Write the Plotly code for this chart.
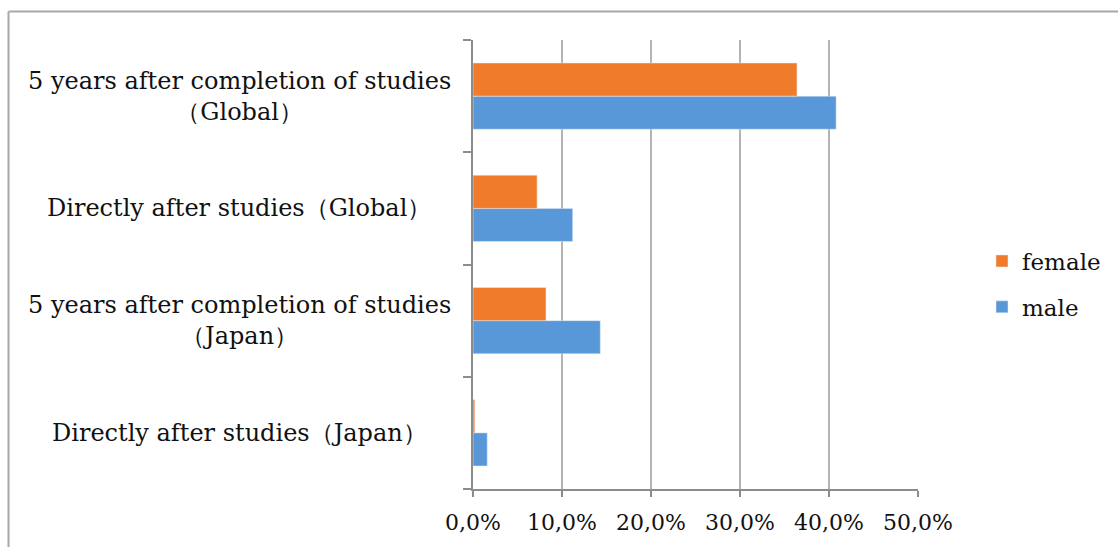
import plotly.graph_objects as go

# Share of graduates by timing and region (fractions of 1)
categories = [
    "Directly after studies（Japan）",
    "5 years after completion of studies<br>（Japan）",
    "Directly after studies（Global）",
    "5 years after completion of studies<br>（Global）",
]
male = [0.016, 0.143, 0.112, 0.408]
female = [0.002, 0.082, 0.072, 0.364]
tick_vals = [0.0, 0.1, 0.2, 0.3, 0.4, 0.5]
tick_text = ["0,0%", "10,0%", "20,0%", "30,0%", "40,0%", "50,0%"]

FONT = "DejaVu Serif"
AXIS = "#8c8c8c"
GRID = "#b4b4b4"

fig = go.Figure()
fig.add_trace(go.Bar(y=categories, x=male, orientation="h", name="male",
                     marker=dict(color="#5898d9"), legendgroup="m", legendrank=2))
fig.add_trace(go.Bar(y=categories, x=female, orientation="h", name="female",
                     marker=dict(color="#ef7b2b"), legendgroup="f", legendrank=1))

L, R, T, B = 473, 200, 40, 58
W, H = 1118, 547
pw, ph = W - L - R, H - T - B

# Category labels, centred beside the axis
for c in categories:
    fig.add_annotation(text=c, y=c, yref="y", x=(239 - L) / pw, xref="paper",
                       xanchor="center", yanchor="middle", align="center",
                       showarrow=False, font=dict(family=FONT, size=24, color="#111"))

# Outer frame of the chart area
fx = (8.5 - L) / pw
fy = (H - B - 11.5) / ph
fig.add_shape(type="line", xref="paper", yref="paper", x0=fx, x1=fx, y0=-0.5, y1=fy,
              line=dict(color="#a8a8a8", width=2))
fig.add_shape(type="line", xref="paper", yref="paper", x0=fx, x1=2.0, y0=fy, y1=fy,
              line=dict(color="#a8a8a8", width=2))

fig.update_layout(
    width=W, height=H,
    margin=dict(l=L, r=R, t=T, b=B, autoexpand=False),
    paper_bgcolor="white", plot_bgcolor="white",
    barmode="group", bargap=0.41, bargroupgap=0,
    font=dict(family=FONT, size=22, color="#111"),
    xaxis=dict(range=[0, 0.5], tickvals=tick_vals, ticktext=tick_text,
               showgrid=True, gridcolor=GRID, gridwidth=2, zeroline=False,
               showline=True, linecolor=AXIS, linewidth=2,
               ticks="outside", ticklen=6, tickcolor=AXIS, tickwidth=2,
               ticklabelstandoff=7,
               tickfont=dict(family=FONT, size=22, color="#111"), fixedrange=True),
    yaxis=dict(type="category", categoryarray=categories, range=[-0.5, 3.5],
               showticklabels=False, showgrid=False, zeroline=False,
               showline=True, linecolor=AXIS, linewidth=2,
               ticks="outside", tickson="boundaries", ticklen=8,
               tickcolor=AXIS, tickwidth=2),
    legend=dict(x=(982 - L) / pw, xanchor="left", y=(H - B - 284) / ph, yanchor="middle",
                traceorder="grouped", tracegroupgap=13,
                font=dict(family=FONT, size=23, color="#111"),
                bgcolor="rgba(0,0,0,0)"),
    showlegend=True,
)

fig.write_html("out.html")
